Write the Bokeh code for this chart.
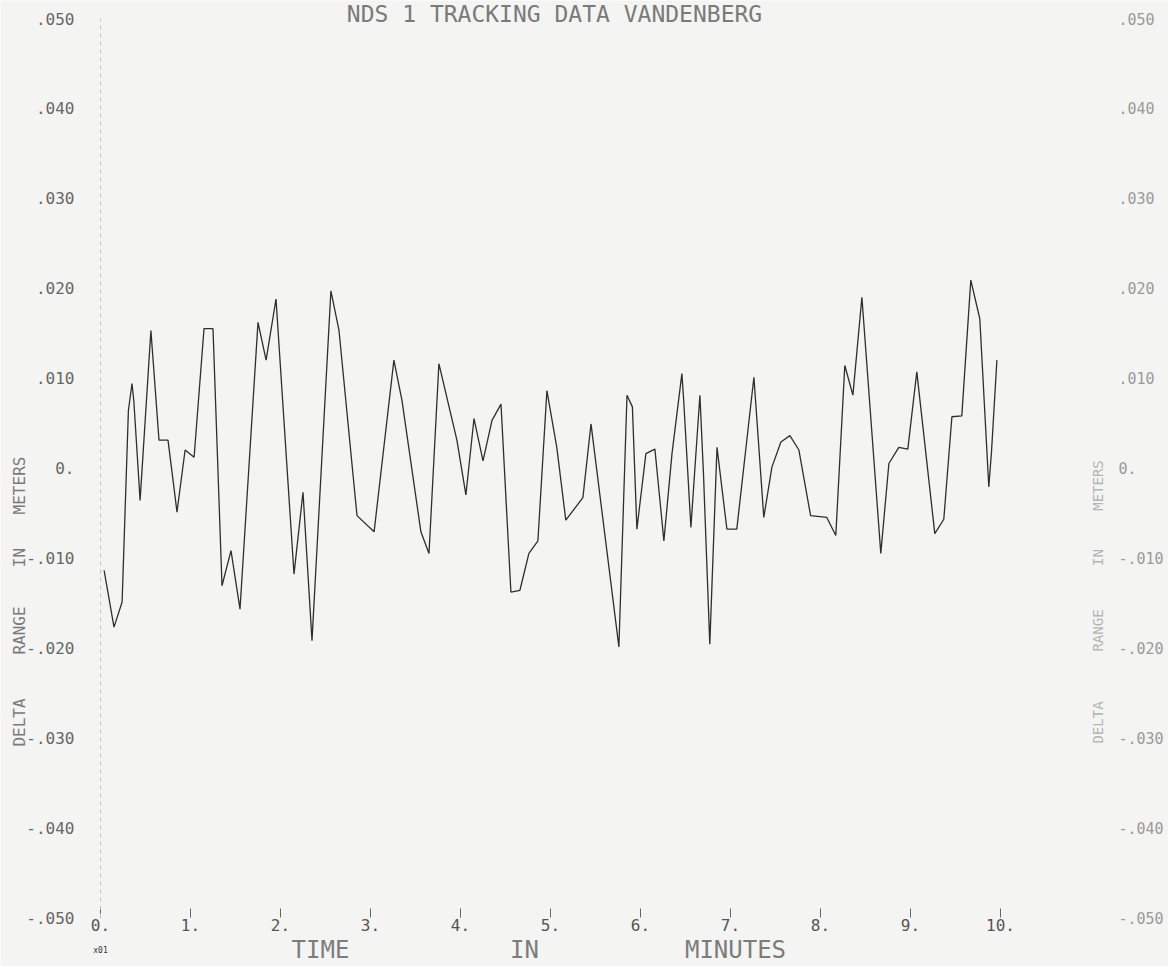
from bokeh.plotting import figure
from bokeh.models import LinearAxis, FixedTicker, CustomJSTickFormatter, Label, Range1d, ColumnDataSource
from bokeh.embed import file_html
from bokeh.resources import INLINE
import math

# ---------------- data ----------------
times_min = [
    0.04, 0.15, 0.24, 0.31, 0.35, 0.37, 0.44, 0.56, 0.65, 0.75,
    0.85, 0.94, 1.04, 1.15, 1.25, 1.35, 1.45, 1.55, 1.75, 1.84,
    1.95, 2.15, 2.25, 2.35, 2.56, 2.65, 2.85, 3.04, 3.26, 3.35,
    3.56, 3.65, 3.76, 3.96, 4.06, 4.15, 4.25, 4.35, 4.45, 4.56,
    4.66, 4.76, 4.86, 4.96, 5.07, 5.17, 5.36, 5.45, 5.76, 5.85,
    5.91, 5.96, 6.06, 6.16, 6.26, 6.35, 6.46, 6.48, 6.56, 6.66,
    6.70, 6.77, 6.85, 6.96, 7.07, 7.26, 7.37, 7.46, 7.56, 7.66,
    7.76, 7.89, 8.07, 8.17, 8.27, 8.36, 8.46, 8.67, 8.76, 8.87,
    8.97, 9.07, 9.27, 9.37, 9.46, 9.57, 9.67, 9.77, 9.87, 9.90, 9.96,
]
delta_range_m = [
    -0.0114, -0.0177, -0.0149, 0.0064, 0.0094, 0.0075, -0.0036, 0.0153, 0.0031, 0.0031,
    -0.0049, 0.0020, 0.0012, 0.0155, 0.0155, -0.0131, -0.0092, -0.0157, 0.0162, 0.0120,
    0.0188, -0.0118, -0.0027, -0.0192, 0.0197, 0.0153, -0.0053, -0.0071, 0.0120, 0.0075,
    -0.0071, -0.0095, 0.0116, 0.0031, -0.0030, 0.0055, 0.0008, 0.0053, 0.0071, -0.0138,
    -0.0136, -0.0095, -0.0081, 0.0086, 0.0023, -0.0058, -0.0033, 0.0049, -0.0199, 0.0081,
    0.0068, -0.0068, 0.0016, 0.0021, -0.0081, 0.0016, 0.0105, 0.0075, -0.0066, 0.0081,
    -0.0007, -0.0196, 0.0023, -0.0068, -0.0068, 0.0101, -0.0055, 0.0001, 0.0029, 0.0036,
    0.0020, -0.0053, -0.0055, -0.0075, 0.0114, 0.0081, 0.0190, -0.0095, 0.0005, 0.0023,
    0.0021, 0.0107, -0.0073, -0.0057, 0.0057, 0.0058, 0.0209, 0.0166, -0.0021, 0.0018, 0.0120,
]
x_tick_values = [0, 1, 2, 3, 4, 5, 6, 7, 8, 9, 10]
x_tick_labels = ["0.", "1.", "2.", "3.", "4.", "5.", "6.", "7.", "8.", "9.", "10."]
y_tick_values = [-0.05, -0.04, -0.03, -0.02, -0.01, 0.0, 0.01, 0.02, 0.03, 0.04, 0.05]
y_tick_labels = ["-.050", "-.040", "-.030", "-.020", "-.010", "0.",
                 ".010", ".020", ".030", ".040", ".050"]
title_text = "NDS 1 TRACKING DATA VANDENBERG"
x_title_words = ["TIME", "IN", "MINUTES"]
y_title_words = ["DELTA", "RANGE", "IN", "METERS"]
x_scale_note = "x01"

# ---------------- layout (pixel geometry of the sheet) ----------------
W, H = 1168, 966
ORIGIN_X = 100.0        # pixel column of t = 0
TOP_Y = 18.0            # pixel row of +.050
PX_PER_MIN = 90.0
PX_PER_M = 8990.0       # 89.9 px per .010 m
RIGHT_AXIS_X = 1102.0   # pixel column of the right-hand scale

x_start = -ORIGIN_X / PX_PER_MIN
x_end = (W - ORIGIN_X) / PX_PER_MIN
y_end = 0.05 + TOP_Y / PX_PER_M
y_start = 0.05 - (H - TOP_Y) / PX_PER_M

FONT = "DejaVu Sans Mono"
BG = "#f4f4f2"

p = figure(width=W, height=H, x_range=Range1d(x_start, x_end), y_range=Range1d(y_start, y_end),
           output_backend="svg", toolbar_location=None,
           x_axis_location=None, y_axis_location=None, min_border=0)
p.title.visible = False
p.outline_line_color = None
p.background_fill_color = BG
p.border_fill_color = BG
p.grid.visible = False

fmt_x = CustomJSTickFormatter(args=dict(labels=x_tick_labels),
                              code="return labels[Math.round(tick)];")
fmt_y = CustomJSTickFormatter(args=dict(labels=y_tick_labels),
                              code="return labels[Math.round(tick*100)+5];")

y_lo, y_hi = y_tick_values[0], y_tick_values[-1]

# bottom axis (at -.050)
xa = LinearAxis(ticker=FixedTicker(ticks=x_tick_values), formatter=fmt_x,
                fixed_location=y_lo, bounds=(x_tick_values[0], x_tick_values[-1]))
xa.axis_line_color = None
xa.major_tick_in = 9
xa.major_tick_out = 0
xa.major_tick_line_color = "#666666"
xa.minor_tick_line_color = None
xa.major_label_standoff = 1
xa.major_label_text_font = FONT
xa.major_label_text_font_size = "16px"
xa.major_label_text_color = "#555555"
p.add_layout(xa, "below")

# left axis (at t = 0)
ya = LinearAxis(ticker=FixedTicker(ticks=y_tick_values), formatter=fmt_y,
                fixed_location=x_tick_values[0], bounds=(y_lo, y_hi))
ya.axis_line_color = "#c4c4c4"
ya.axis_line_dash = "4 4"
ya.axis_line_width = 1
ya.major_tick_line_color = None
ya.minor_tick_line_color = None
ya.major_label_standoff = 20
ya.major_label_text_font = FONT
ya.major_label_text_font_size = "16px"
ya.major_label_text_color = "#666666"
p.add_layout(ya, "left")

# right axis (faint)
ra = LinearAxis(ticker=FixedTicker(ticks=y_tick_values), formatter=fmt_y,
                fixed_location=(RIGHT_AXIS_X - ORIGIN_X) / PX_PER_MIN, bounds=(y_lo, y_hi))
ra.axis_line_color = None
ra.major_tick_line_color = None
ra.minor_tick_line_color = None
ra.major_label_standoff = 10
ra.major_label_text_font = FONT
ra.major_label_text_font_size = "15px"
ra.major_label_text_color = "#9a9a9a"
p.add_layout(ra, "right")

# data line
src = ColumnDataSource(dict(t=times_min, d=delta_range_m))
p.line("t", "d", source=src, line_color="#2e2e2e", line_width=1.3)


def at(rx, ry):
    """sheet-pixel position -> data coordinates."""
    return (rx - ORIGIN_X) / PX_PER_MIN, 0.05 - (ry - TOP_Y) / PX_PER_M


def add_text(text, rx, ry, size, color, angle=0.0, baseline="middle"):
    x, y = at(rx, ry)
    p.add_layout(Label(x=x, y=y, text=text, angle=angle, text_align="center",
                       text_baseline=baseline, text_font=FONT,
                       text_font_size=size, text_color=color))


# title, at the very top of the sheet
add_text(title_text, 554, 0, "23px", "#7a7a7a", baseline="top")

# x axis title
for word, rx in zip(x_title_words, [320, 524, 735]):
    add_text(word, rx, 949, "24px", "#7c7c7c")
add_text(x_scale_note, 100, 950, "8px", "#333333")

# y axis titles (left darker, right faint)
for word, ry in zip(y_title_words, [722, 630, 557, 485]):
    add_text(word, 19, ry, "16px", "#7a7a7a", angle=math.pi / 2)
    add_text(word, 1097, ry, "14px", "#b4b4b4", angle=math.pi / 2)

html = file_html(p, INLINE)
html = html.replace("<body>", '<body style="background:%s">' % BG, 1)
open("out.html", "w").write(html)
